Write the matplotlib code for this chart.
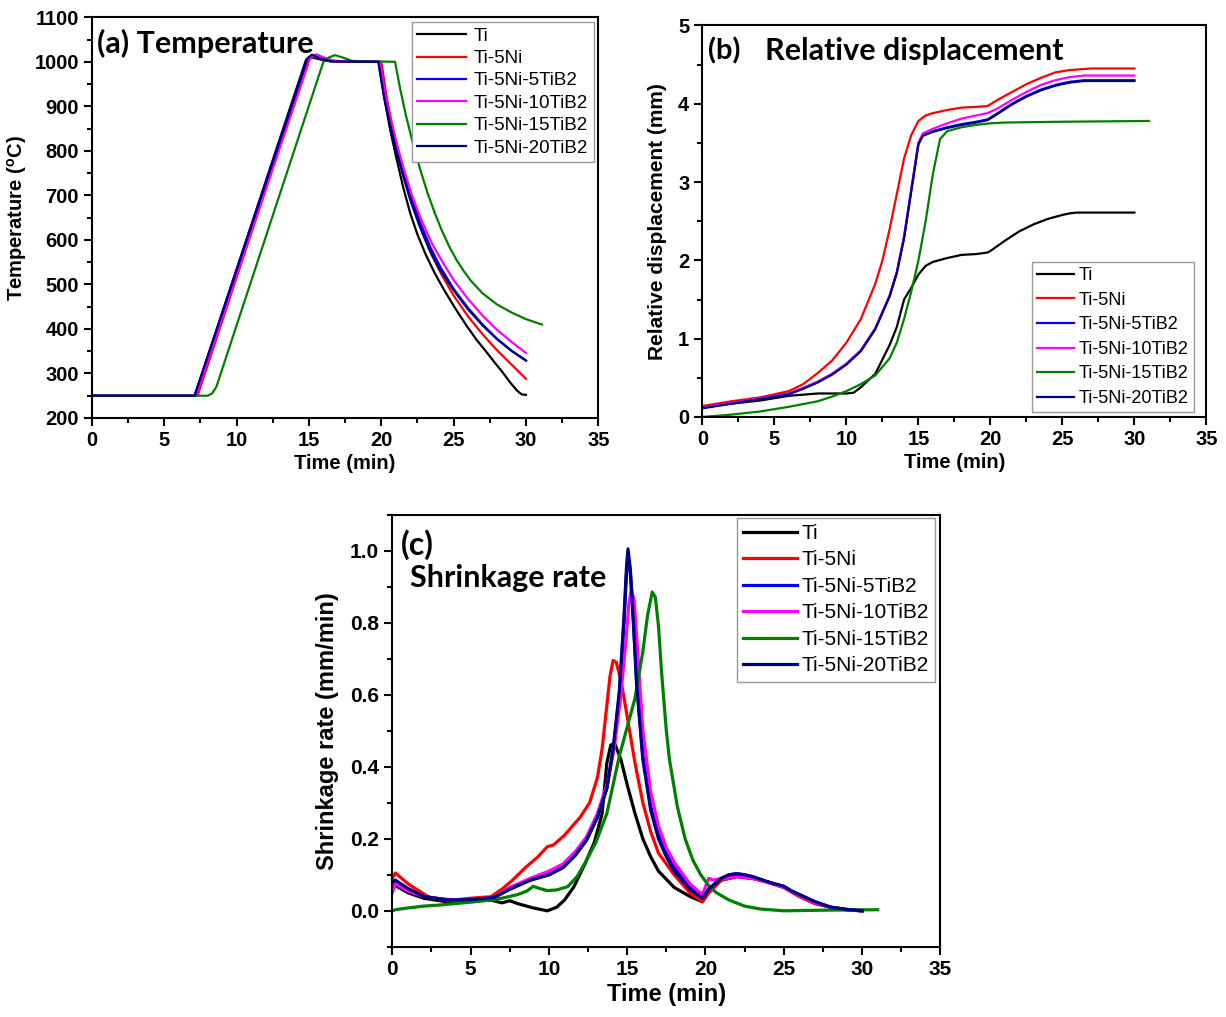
import numpy as np
import matplotlib
matplotlib.use("Agg")
import matplotlib.pyplot as plt
from matplotlib.ticker import MultipleLocator, FormatStrFormatter

plt.rcParams['font.family'] = ['Liberation Sans', 'DejaVu Sans']
plt.rcParams['font.weight'] = 'bold'
plt.rcParams['axes.labelweight'] = 'bold'
plt.rcParams['mathtext.default'] = 'regular'

labels = ['Ti', 'Ti-5Ni', 'Ti-5Ni-5TiB2', 'Ti-5Ni-10TiB2', 'Ti-5Ni-15TiB2', 'Ti-5Ni-20TiB2']
colors = ['#000000', '#ff0000', '#0000ff', '#ff00ff', '#008000', '#000080']

# ---------------- (a) temperature ----------------
a_t_ti = [0, 7.1, 14.8, 15.2, 15.8, 16.5, 19.8, 20.2, 20.6, 21, 21.5, 22, 22.5, 23.1, 23.7, 24.3, 25, 25.9, 26.6, 27.3, 27.9, 28.4, 28.9, 29.4, 29.7, 30]
a_T_ti = [250, 250, 1005, 1010, 1005, 1001, 1000, 920, 850, 790, 720, 660, 612, 565, 525, 490, 452, 407, 375, 347, 322, 302, 280, 261, 253, 252]
a_t_ni = [0, 7.3, 15.0, 15.4, 16, 16.8, 20.0, 20.4, 20.8, 21.2, 21.7, 22.2, 22.8, 23.5, 24.2, 25, 26, 27, 28, 29, 30]
a_T_ni = [250, 250, 1008, 1012, 1005, 1001, 1000, 915, 850, 795, 730, 675, 620, 565, 520, 475, 428, 388, 352, 320, 288]
a_t_5 = [0, 7.1, 14.9, 15.3, 15.8, 16.5, 19.9, 20.3, 20.7, 21.1, 21.6, 22.1, 22.7, 23.4, 24.1, 25, 26, 27, 28, 29, 30]
a_T_5 = [250, 250, 1008, 1015, 1008, 1002, 1000, 920, 858, 805, 745, 692, 638, 583, 538, 490, 447, 410, 378, 351, 329]
a_t_10 = [0, 7.2, 15.1, 15.5, 16.0, 16.8, 19.9, 20.3, 20.7, 21.1, 21.6, 22.1, 22.8, 23.5, 24.2, 25, 26, 27, 28, 29, 30]
a_T_10 = [250, 250, 1010, 1017, 1010, 1002, 1000, 922, 864, 812, 754, 702, 642, 592, 552, 510, 467, 430, 398, 371, 346]
a_t_15 = [0, 8.0, 8.3, 8.6, 16.0, 16.4, 16.8, 17.3, 18.0, 20.95, 21.3, 21.7, 22.2, 22.7, 23.2, 23.7, 24.2, 24.7, 25.2, 25.7, 26.2, 27, 28, 29, 30, 31.1]
a_T_15 = [250, 250, 255, 270, 1000, 1010, 1015, 1010, 1002, 1000, 940, 880, 815, 757, 705, 660, 620, 585, 555, 530, 508, 480, 455, 437, 422, 410]
a_t_20 = [0, 7.1, 14.9, 15.2, 15.7, 16.5, 19.8, 20.2, 20.6, 21, 21.5, 22, 22.6, 23.3, 24, 25, 26, 27, 28, 29, 30]
a_T_20 = [250, 250, 1008, 1016, 1008, 1001, 1000, 920, 860, 805, 745, 690, 635, 580, 535, 487, 444, 408, 377, 351, 329]

# ---------------- (b) relative displacement ----------------
b_t_ti = [0, 2, 4, 6, 8, 10, 10.5, 11, 12, 13, 13.5, 14, 14.5, 15, 15.5, 16, 17, 18, 19, 19.8, 20, 21, 22, 23, 24, 25, 25.5, 26, 30]
b_d_ti = [0.12, 0.17, 0.21, 0.27, 0.30, 0.30, 0.31, 0.38, 0.55, 0.92, 1.15, 1.50, 1.65, 1.82, 1.93, 1.98, 2.03, 2.07, 2.08, 2.10, 2.12, 2.25, 2.37, 2.46, 2.53, 2.58, 2.60, 2.61, 2.61]
b_t_ni = [0, 2, 4, 6, 7, 8, 9, 10, 11, 12, 12.5, 13, 13.5, 14, 14.5, 15, 15.5, 16, 17, 18, 19, 19.8, 20.5, 21.5, 22.5, 23.5, 24.5, 25.5, 27, 30]
b_d_ni = [0.14, 0.20, 0.25, 0.33, 0.42, 0.56, 0.72, 0.95, 1.25, 1.70, 2.00, 2.40, 2.85, 3.30, 3.60, 3.78, 3.85, 3.88, 3.92, 3.95, 3.96, 3.97, 4.05, 4.15, 4.25, 4.33, 4.40, 4.43, 4.45, 4.45]
b_t_5 = [0, 2, 4, 6, 7, 8, 9, 10, 11, 12, 13, 13.5, 14, 14.5, 15, 15.3, 16, 17, 18, 19, 19.8, 20.5, 21.5, 22.5, 23.5, 24.5, 25.5, 26.5, 30]
b_d_5 = [0.12, 0.18, 0.24, 0.30, 0.37, 0.45, 0.55, 0.68, 0.85, 1.13, 1.55, 1.85, 2.30, 2.90, 3.50, 3.60, 3.65, 3.70, 3.74, 3.77, 3.80, 3.88, 4.00, 4.10, 4.18, 4.24, 4.28, 4.30, 4.30]
b_t_10 = [0, 2, 4, 6, 7, 8, 9, 10, 11, 12, 13, 13.5, 14, 14.5, 15, 15.3, 16, 17, 18, 19, 19.8, 20.5, 21.5, 22.5, 23.5, 24.5, 25.5, 26.5, 30]
b_d_10 = [0.12, 0.18, 0.24, 0.30, 0.37, 0.45, 0.55, 0.68, 0.85, 1.13, 1.55, 1.85, 2.30, 2.90, 3.50, 3.62, 3.68, 3.75, 3.81, 3.85, 3.88, 3.94, 4.05, 4.15, 4.24, 4.30, 4.34, 4.36, 4.36]
b_t_15 = [0, 2, 4, 6, 8, 9, 10, 11, 12, 13, 13.5, 14, 14.5, 15, 15.5, 16, 16.5, 17, 18, 19, 20, 21, 25, 31]
b_d_15 = [0.0, 0.03, 0.07, 0.13, 0.20, 0.26, 0.33, 0.42, 0.53, 0.75, 0.95, 1.25, 1.60, 2.00, 2.50, 3.10, 3.55, 3.65, 3.70, 3.73, 3.75, 3.76, 3.77, 3.78]
b_t_20 = [0, 2, 4, 6, 7, 8, 9, 10, 11, 12, 13, 13.5, 14, 14.5, 15, 15.3, 16, 17, 18, 19, 19.8, 20.5, 21.5, 22.5, 23.5, 24.5, 25.5, 26.5, 30]
b_d_20 = [0.11, 0.17, 0.23, 0.29, 0.36, 0.44, 0.54, 0.67, 0.84, 1.12, 1.54, 1.84, 2.28, 2.88, 3.48, 3.59, 3.64, 3.69, 3.73, 3.76, 3.79, 3.87, 3.99, 4.09, 4.17, 4.23, 4.27, 4.29, 4.29]

# ---------------- (c) shrinkage rate ----------------
c_t_ti = [0, 0.2, 1, 2, 3.5, 5, 6.3, 7, 7.5, 8, 9, 9.9, 10.5, 11, 11.6, 12.3, 12.9, 13.4, 13.7, 13.95, 14.2, 14.6, 15, 15.5, 16, 16.5, 17, 18, 19, 19.8,
          20.2, 21, 22, 23, 24, 25, 26, 27, 28, 29, 30]
c_r_ti = [0.065, 0.07, 0.05, 0.035, 0.025, 0.027, 0.03, 0.022, 0.028, 0.02, 0.008, 0.0, 0.01, 0.03, 0.067, 0.13, 0.19, 0.27, 0.41, 0.46, 0.465, 0.42, 0.35, 0.27, 0.20, 0.15, 0.11, 0.065, 0.04, 0.025,
          0.05, 0.085, 0.095, 0.09, 0.08, 0.065, 0.04, 0.02, 0.01, 0.003, 0.0]
c_t_ni = [0, 0.2, 1, 2.4, 4, 5, 6.3, 7, 7.7, 8.5, 9.3, 9.9, 10.3, 11, 12, 12.6, 13.1, 13.4, 13.7, 13.9, 14.1, 14.3, 14.6, 15, 15.5, 16, 16.5, 17, 18, 19, 19.8,
          20.2, 21, 22, 23, 24, 25, 26, 27, 28, 29, 30]
c_r_ni = [0.09, 0.105, 0.075, 0.036, 0.03, 0.035, 0.039, 0.06, 0.086, 0.12, 0.15, 0.178, 0.183, 0.21, 0.26, 0.30, 0.37, 0.45, 0.57, 0.65, 0.695, 0.69, 0.64, 0.54, 0.41, 0.30, 0.22, 0.16, 0.10, 0.05, 0.025,
          0.05, 0.085, 0.095, 0.09, 0.08, 0.065, 0.04, 0.02, 0.01, 0.003, 0.0]
c_t_5 = [0, 0.2, 1, 2, 3.5, 5, 6.5, 7.5, 8.8, 10, 10.9, 11.7, 12.4, 13.1, 13.7, 14.1, 14.5, 14.8, 14.95, 15.05, 15.2, 15.4, 15.6, 16.0, 16.5, 17, 17.5, 18, 19, 19.8,
         20.2, 21, 21.5, 22, 22.5, 23, 24, 25, 25.5, 26, 27, 28, 29, 30]
c_r_5 = [0.075, 0.08, 0.06, 0.04, 0.03, 0.031, 0.037, 0.06, 0.085, 0.10, 0.12, 0.155, 0.196, 0.26, 0.34, 0.44, 0.60, 0.80, 0.93, 0.99, 0.94, 0.80, 0.64, 0.43, 0.29, 0.21, 0.16, 0.12, 0.065, 0.035,
         0.06, 0.09, 0.10, 0.103, 0.10, 0.095, 0.08, 0.068, 0.055, 0.045, 0.025, 0.01, 0.004, 0.0]
c_t_10 = [0, 0.2, 1, 2, 3.5, 5, 6.5, 7.5, 8.8, 10, 10.9, 11.7, 12.4, 13.1, 13.7, 14.2, 14.6, 14.9, 15.1, 15.27, 15.45, 15.7, 16, 16.5, 17, 17.5, 18, 19, 19.8,
          20.2, 20.5, 21, 22, 23, 24, 25, 26, 27, 28, 29, 30]
c_r_10 = [0.05, 0.075, 0.055, 0.04, 0.03, 0.031, 0.037, 0.065, 0.09, 0.11, 0.13, 0.165, 0.205, 0.27, 0.35, 0.46, 0.60, 0.74, 0.85, 0.893, 0.86, 0.70, 0.50, 0.33, 0.235, 0.175, 0.135, 0.075, 0.045,
          0.09, 0.085, 0.09, 0.095, 0.09, 0.078, 0.065, 0.042, 0.022, 0.01, 0.003, 0.0]
c_t_15 = [0, 0.2, 1, 2, 3, 4, 5, 6.3, 7, 8, 8.6, 9.0, 9.4, 9.9, 10.5, 11.2, 11.8, 12.4, 13, 13.7, 14.0, 14.5, 15.0, 15.5, 16.0, 16.3, 16.6, 16.8, 17.0, 17.2, 17.5, 17.7,
          18.2, 18.7, 19.2, 19.7, 20.2, 20.7, 21.5, 22.5, 23.5, 25, 28, 31]
c_r_15 = [0.0, 0.003, 0.008, 0.013, 0.016, 0.02, 0.024, 0.03, 0.035, 0.045, 0.055, 0.068, 0.062, 0.056, 0.058, 0.067, 0.095, 0.14, 0.19, 0.27, 0.33, 0.43, 0.51, 0.59, 0.72, 0.82, 0.885, 0.87, 0.79, 0.66, 0.50, 0.42,
          0.29, 0.20, 0.14, 0.10, 0.07, 0.05, 0.03, 0.013, 0.005, 0.0, 0.002, 0.003]
c_t_20 = c_t_5
c_r_20 = [0.08, 0.085, 0.062, 0.04, 0.03, 0.031, 0.037, 0.06, 0.085, 0.10, 0.12, 0.155, 0.196, 0.26, 0.34, 0.45, 0.61, 0.82, 0.95, 1.005, 0.95, 0.80, 0.63, 0.42, 0.28, 0.20, 0.15, 0.11, 0.06, 0.035,
          0.06, 0.09, 0.10, 0.103, 0.10, 0.095, 0.08, 0.068, 0.055, 0.045, 0.025, 0.01, 0.004, 0.0]

a_series = [(a_t_ti, a_T_ti), (a_t_ni, a_T_ni), (a_t_5, a_T_5), (a_t_10, a_T_10), (a_t_15, a_T_15), (a_t_20, a_T_20)]
b_series = [(b_t_ti, b_d_ti), (b_t_ni, b_d_ni), (b_t_5, b_d_5), (b_t_10, b_d_10), (b_t_15, b_d_15), (b_t_20, b_d_20)]
c_series = [(c_t_ti, c_r_ti), (c_t_ni, c_r_ni), (c_t_5, c_r_5), (c_t_10, c_r_10), (c_t_15, c_r_15), (c_t_20, c_r_20)]

fig = plt.figure(figsize=(12.26, 10.17), dpi=100)
ax_a = fig.add_axes([0.075, 0.589, 0.413, 0.394])
ax_b = fig.add_axes([0.573, 0.590, 0.411, 0.385])
ax_c = fig.add_axes([0.320, 0.069, 0.447, 0.425])


def style(ax, ylim, ymaj, ymin, tsize=14.5):
    ax.set_xlim(0, 35)
    ax.set_ylim(*ylim)
    ax.xaxis.set_major_locator(MultipleLocator(5))
    ax.xaxis.set_minor_locator(MultipleLocator(2.5))
    ax.yaxis.set_major_locator(MultipleLocator(ymaj))
    ax.yaxis.set_minor_locator(MultipleLocator(ymin))
    ax.tick_params(which='both', direction='out', width=1.5, top=False, right=False, labelsize=tsize)
    ax.tick_params(which='major', length=6)
    ax.tick_params(which='minor', length=3.5)
    for s in ax.spines.values():
        s.set_linewidth(1.5)


def legend(ax, **kw):
    leg = ax.legend(prop={'family': 'Liberation Sans', 'weight': 'normal', 'size': kw.pop('size')},
                    fancybox=False, edgecolor='#999999', framealpha=1, **kw)
    leg.get_frame().set_linewidth(1.0)
    return leg


# (a)
for (t, v), lab, col in zip(a_series, labels, colors):
    ax_a.plot(t, v, color=col, lw=1.6, label=lab)
style(ax_a, (200, 1100), 100, 50)
ax_a.set_xlabel('Time (min)', fontsize=14.5, fontweight='bold', labelpad=3)
ax_a.set_ylabel('Temperature ($^\\mathregular{o}$C)', fontsize=14.5, fontweight='bold', labelpad=4)
ax_a.text(0.01, 0.97, '(a) Temperature', transform=ax_a.transAxes, fontsize=22, fontweight='bold',
          family='Lato', va='top', ha='left')
legend(ax_a, loc='upper right', size=13.5, handlelength=2.6, labelspacing=0.28, borderpad=0.3,
       handletextpad=0.4, borderaxespad=0.25)

# (b)
for (t, v), lab, col in zip(b_series, labels, colors):
    ax_b.plot(t, v, color=col, lw=1.6, label=lab)
style(ax_b, (0, 5), 1, 0.5)
ax_b.set_xlabel('Time (min)', fontsize=14.5, fontweight='bold', labelpad=3)
ax_b.set_ylabel('Relative displacement (mm)', fontsize=15, fontweight='bold', labelpad=8)
ax_b.text(0.01, 0.97, '(b)', transform=ax_b.transAxes, fontsize=21, fontweight='bold',
          family='Lato', va='top', ha='left')
ax_b.text(0.125, 0.97, 'Relative displacement', transform=ax_b.transAxes, fontsize=22, fontweight='bold',
          family='Lato', va='top', ha='left')
legend(ax_b, loc='lower right', size=13, handlelength=2.0, labelspacing=0.42, borderpad=0.3,
       handletextpad=0.3, borderaxespad=0.25, bbox_to_anchor=(0.985, 0.0))

# (c)
for (t, v), lab, col in zip(c_series, labels, colors):
    ax_c.plot(t, v, color=col, lw=2.3, label=lab)
style(ax_c, (-0.1, 1.1), 0.2, 0.1, tsize=15)
ax_c.yaxis.set_major_formatter(FormatStrFormatter('%.1f'))
ax_c.set_xlabel('Time (min)', fontsize=17, fontweight='bold', labelpad=3)
ax_c.set_ylabel('Shrinkage rate (mm/min)', fontsize=17, fontweight='bold', labelpad=8)
ax_c.text(0.015, 0.965, '(c)', transform=ax_c.transAxes, fontsize=23, fontweight='bold',
          family='Lato', va='top', ha='left')
ax_c.text(0.033, 0.885, 'Shrinkage rate', transform=ax_c.transAxes, fontsize=22, fontweight='bold',
          family='Lato', va='top', ha='left')
legend(ax_c, loc='upper right', size=15, handlelength=2.6, labelspacing=0.36, borderpad=0.3,
       handletextpad=0.2, borderaxespad=0.0, bbox_to_anchor=(0.99, 0.993))

fig.savefig('out.png', dpi=100)
